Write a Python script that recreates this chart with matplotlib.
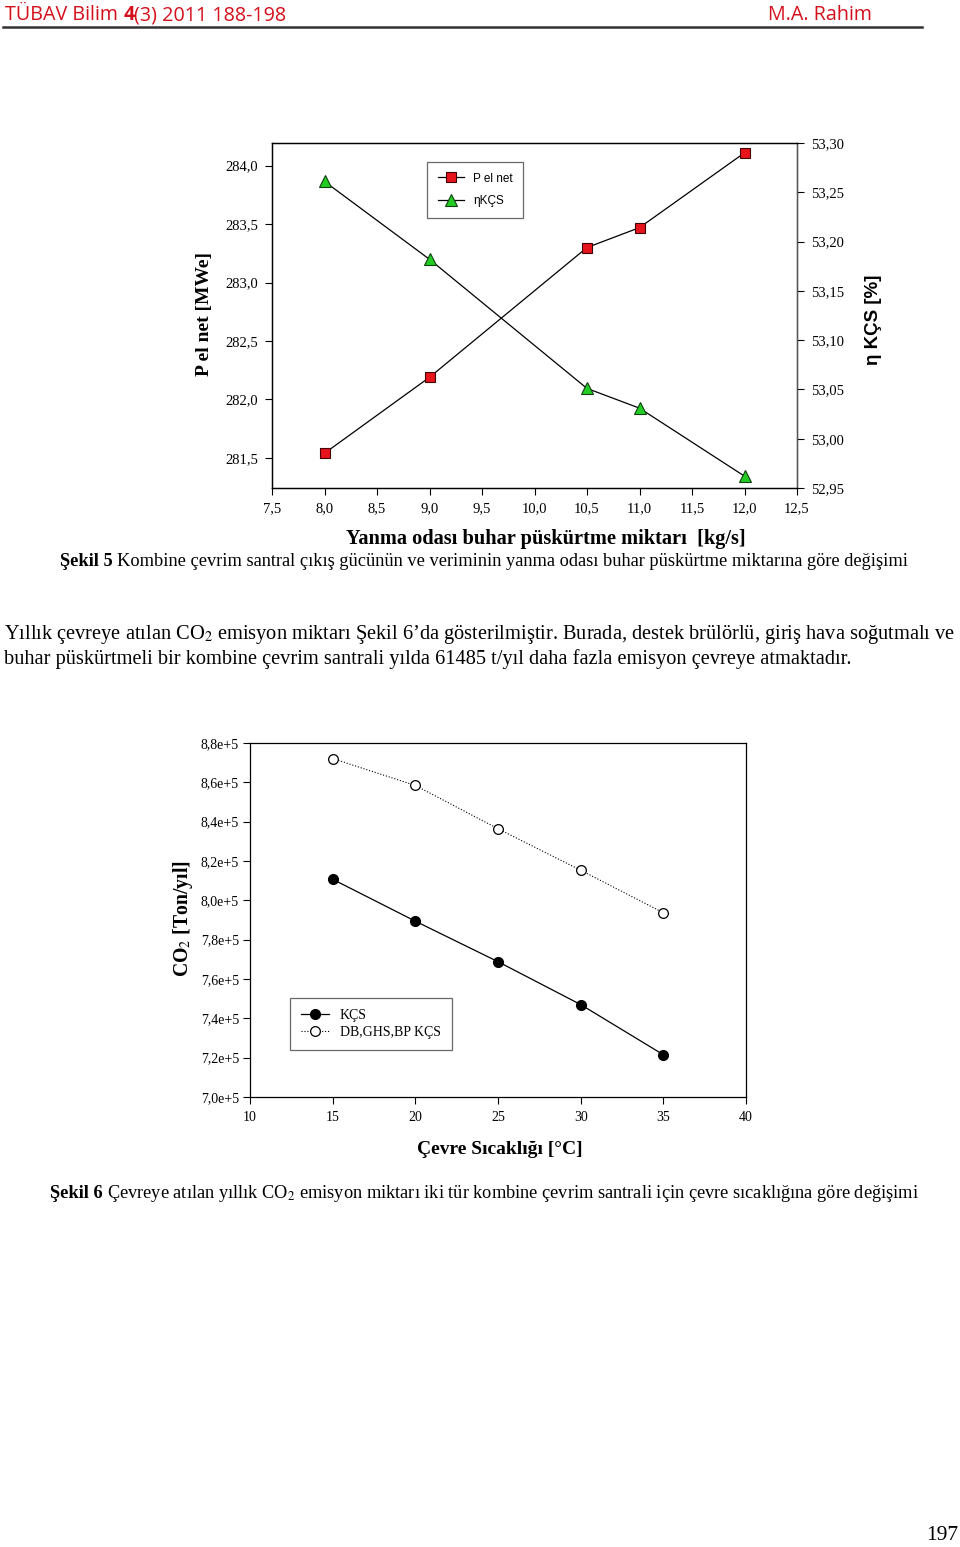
import matplotlib
matplotlib.use("Agg")
import matplotlib.pyplot as plt
from matplotlib.lines import Line2D
from matplotlib.ticker import FuncFormatter, MultipleLocator

# === DATA ===

injection = [8.0, 9.0, 10.5, 11.0, 12.0]
p_el_net = [281.54, 282.19, 283.30, 283.47, 284.11]
eta_kcs = [53.261, 53.182, 53.051, 53.031, 52.962]

temps = [15, 20, 25, 30, 35]
co2_kcs = [8.107e5, 7.894e5, 7.688e5, 7.470e5, 7.215e5]
co2_db = [8.721e5, 8.584e5, 8.364e5, 8.153e5, 7.937e5]

W, H = 960, 1547
SERIF = ["Liberation Serif", "DejaVu Serif"]
SANS = ["Liberation Sans", "DejaVu Sans"]
plt.rcParams["mathtext.fontset"] = "stix"

fig = plt.figure(figsize=(W / 100, H / 100), dpi=100)


def fx(x):
    return x / W


def fy(y):
    return 1 - y / H


def comma(fmt):
    return FuncFormatter(lambda v, _: fmt.format(v).replace(".", ","))


def run_text(x, y, parts, size, family):
    """Draw text pieces one after another on the same line (pixel coords)."""
    renderer = fig.canvas.get_renderer()
    for text, weight, color in parts:
        t = fig.text(fx(x), fy(y), text, fontsize=size, fontweight=weight,
                     color=color, family=family, ha="left", va="center")
        bb = t.get_window_extent(renderer)
        x += bb.width


# === PAGE HEADER ===

red = "#d4101c"
run_text(5, 15, [("TÜBAV Bilim ", "normal", red), ("4", "bold", red),
                 ("(3) 2011 188-198", "normal", red)], 14.2, ["Open Sans"])
fig.text(fx(872), fy(15), "M.A. Rahim", fontsize=14.2, color=red,
         family=["Open Sans"], ha="right", va="center")
fig.add_artist(Line2D([fx(3), fx(922)], [fy(27), fy(27)], color="#333333",
                      lw=1.8, transform=fig.transFigure))

# === FIGURE 5 ===

ax1 = fig.add_axes([fx(272), fy(488), fx(797 - 272), (488 - 143) / H])
ax1.plot(injection, p_el_net, color="black", lw=0.9, marker="s", ms=7,
         mfc="#e8141c", mec="#400000", mew=0.8, label="P el net")
ax2 = ax1.twinx()
ax2.plot(injection, eta_kcs, color="black", lw=0.9, marker="^", ms=8,
         mfc="#22cc22", mec="#104010", mew=0.8, label="ηKÇS")

ax1.set_xlim(7.5, 12.5)
ax1.set_ylim(281.243, 284.194)
ax2.set_ylim(52.95, 53.30)
ax1.xaxis.set_major_locator(MultipleLocator(0.5))
ax1.yaxis.set_major_locator(MultipleLocator(0.5))
ax2.yaxis.set_major_locator(MultipleLocator(0.05))
ax1.xaxis.set_major_formatter(comma("{:.1f}"))
ax1.yaxis.set_major_formatter(comma("{:.1f}"))
ax2.yaxis.set_major_formatter(comma("{:.2f}"))
for a in (ax1, ax2):
    a.tick_params(direction="out", length=5, width=0.8, labelsize=10.5,
                  pad=5)
    for lab in a.get_xticklabels() + a.get_yticklabels():
        lab.set_family(SERIF)
    for s in a.spines.values():
        s.set_linewidth(0.9)
ax2.spines["right"].set_color("#555555")

h1, l1 = ax1.get_legend_handles_labels()
h2, l2 = ax2.get_legend_handles_labels()
leg = ax1.legend(h1 + h2, l1 + l2, loc="upper left",
                 bbox_to_anchor=((427 - 272) / 525, 1 - (162 - 143) / 345),
                 borderaxespad=0, frameon=True, fancybox=False,
                 edgecolor="#444444", prop={"family": SANS, "size": 8.5},
                 handlelength=2.2, borderpad=0.9, labelspacing=0.9)
leg.get_frame().set_linewidth(0.9)

fig.text(fx(205), fy(314), "P el net [MWe]", rotation=90, fontsize=14,
         fontweight="bold", family=SERIF, ha="center", va="center")
fig.text(fx(873), fy(320), "η KÇS [%]", rotation=90, fontsize=13.5,
         fontweight="bold", family=SANS, ha="center", va="center")
fig.text(fx(546), fy(539), "Yanma odası buhar püskürtme miktarı  [kg/s]",
         fontsize=14.7, fontweight="bold", family=SERIF, ha="center",
         va="center")
run_text(60, 561, [("Şekil 5 ", "bold", "black"),
                   ("Kombine çevrim santral çıkış gücünün ve veriminin yanma "
                    "odası buhar püskürtme miktarına göre değişimi",
                    "normal", "black")], 13.2, SERIF)

# === PARAGRAPH ===

run_text(4, 635, [("Yıllık çevreye atılan CO$_2$ emisyon miktarı Şekil 6’da "
                   "gösterilmiştir. Burada, destek brülörlü, giriş hava "
                   "soğutmalı ve", "normal", "black")], 14.7, SERIF)
run_text(4, 659, [("buhar püskürtmeli bir kombine çevrim santrali yılda 61485 "
                   "t/yıl daha fazla emisyon çevreye atmaktadır.", "normal",
                   "black")], 14.7, SERIF)

# === FIGURE 6 ===

ax3 = fig.add_axes([fx(250), fy(1097), fx(746 - 250), (1097 - 743) / H])
ax3.plot(temps, co2_kcs, color="black", lw=0.9, marker="o", ms=7,
         mfc="black", mec="black", label="KÇS")
ax3.plot(temps, co2_db, color="black", lw=0.8, ls=":", marker="o", ms=7,
         mfc="white", mec="black", mew=0.9, label="DB,GHS,BP KÇS")
ax3.set_xlim(10, 40)
ax3.set_ylim(7.0e5, 8.8e5)
ax3.xaxis.set_major_locator(MultipleLocator(5))
ax3.yaxis.set_major_locator(MultipleLocator(0.2e5))
ax3.yaxis.set_major_formatter(
    FuncFormatter(lambda v, _: f"{v / 1e5:.1f}e+5".replace(".", ",")))
ax3.tick_params(direction="out", length=5, width=0.8, labelsize=10, pad=3)
ax3.tick_params(axis="x", pad=5)
for lab in ax3.get_xticklabels() + ax3.get_yticklabels():
    lab.set_family(SERIF)
for s in ax3.spines.values():
    s.set_linewidth(0.9)
leg3 = ax3.legend(loc="upper left",
                  bbox_to_anchor=((290 - 250) / 496, 1 - (998 - 743) / 354),
                  borderaxespad=0, frameon=True, fancybox=False,
                  edgecolor="#444444", prop={"family": SERIF, "size": 10},
                  handlelength=2.0, borderpad=0.8, labelspacing=0.25)
leg3.get_frame().set_linewidth(0.9)

fig.text(fx(183), fy(919), r"CO$_2$ [Ton/yıl]", rotation=90, fontsize=14.2,
         fontweight="bold", family=SERIF, ha="center", va="center")
fig.text(fx(500), fy(1149), "Çevre Sıcaklığı [°C]", fontsize=14,
         fontweight="bold", family=SERIF, ha="center", va="center")
run_text(50, 1194, [("Şekil 6 ", "bold", "black"),
                    ("Çevreye atılan yıllık CO$_2$ emisyon miktarı iki tür "
                     "kombine çevrim santrali için çevre sıcaklığına göre "
                     "değişimi", "normal", "black")], 13.2, SERIF)

fig.text(fx(958), fy(1535), "197", fontsize=15.5, family=SERIF, ha="right",
         va="center")

fig.savefig("out.png", dpi=100)
